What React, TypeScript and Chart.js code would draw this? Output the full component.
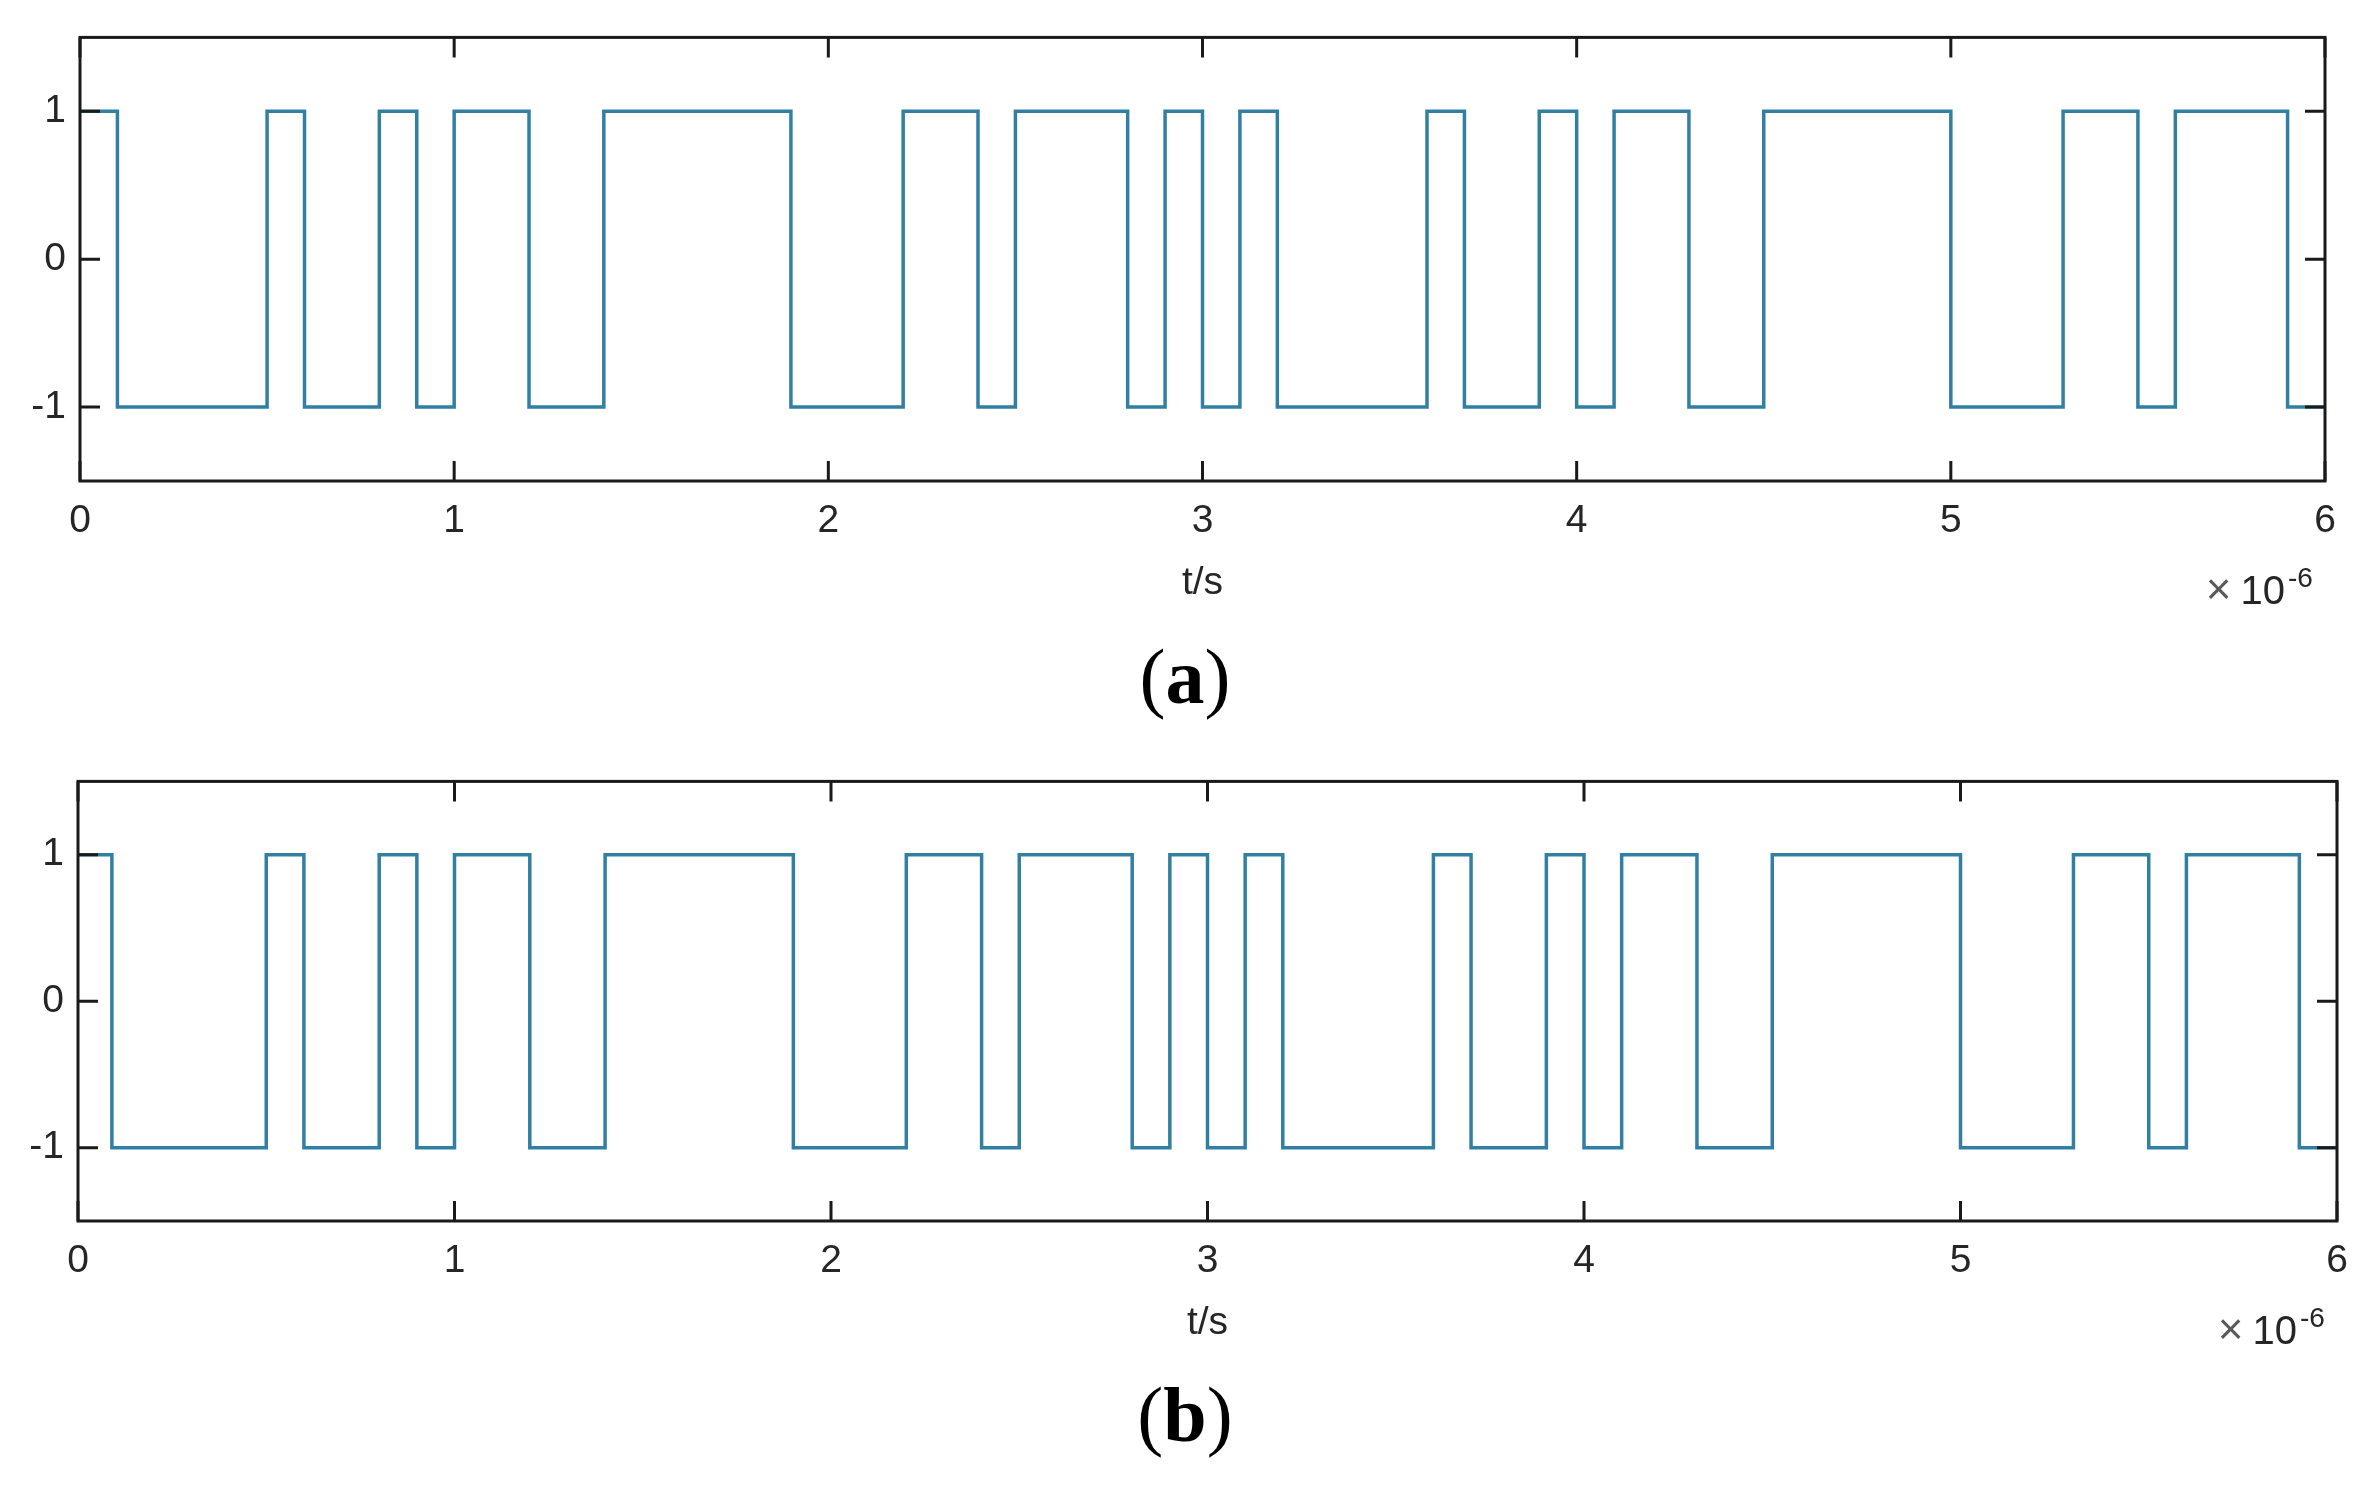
import React, { useEffect, useRef } from "react";
import { Chart, registerables } from "chart.js";

Chart.register(...registerables);

// Bit edges (in units of 1e-6 s) and the level held from each edge to the next
const edgesA = [0, 0.1, 0.5, 0.6, 0.8, 0.9, 1.0, 1.2, 1.4, 1.9, 2.2, 2.4, 2.5, 2.8, 2.9, 3.0, 3.1, 3.2, 3.6, 3.7, 3.9, 4.0, 4.1, 4.3, 4.5, 5.0, 5.3, 5.5, 5.6, 5.9, 6.0];
const levelsA = [1, -1, 1, -1, 1, -1, 1, -1, 1, -1, 1, -1, 1, -1, 1, -1, 1, -1, 1, -1, 1, -1, 1, -1, 1, -1, 1, -1, 1, -1];
const edgesB = [0, 0.09, 0.5, 0.6, 0.8, 0.9, 1.0, 1.2, 1.4, 1.9, 2.2, 2.4, 2.5, 2.8, 2.9, 3.0, 3.1, 3.2, 3.6, 3.7, 3.9, 4.0, 4.1, 4.3, 4.5, 5.0, 5.3, 5.5, 5.6, 5.9, 6.0];
const levelsB = [1, -1, 1, -1, 1, -1, 1, -1, 1, -1, 1, -1, 1, -1, 1, -1, 1, -1, 1, -1, 1, -1, 1, -1, 1, -1, 1, -1, 1, -1];

const xTicks = [0, 1, 2, 3, 4, 5, 6];
const yTicks = [-1, 0, 1];
const xAxisTitle = "t/s";
const exponentPower = "-6";

const LINE_COLOR = "#3180a3";
const TEXT_COLOR = "#262626";
const FONT = "'Liberation Sans', Arial, sans-serif";

type PanelCfg = {
  edges: number[];
  levels: number[];
  letter: string;
  top: number;
  padTop: number;
  padRight: number;
  yAxisWidth: number;
  canvasH: number;
  chartH: number;
  letterBaseline: number;
};

function makeBoxPlugin(cfg: PanelCfg) {
  return {
    id: "matlabBox" + cfg.letter,
    afterDraw(chart: any) {
      const ctx = chart.ctx as CanvasRenderingContext2D;
      const { left, right, top, bottom } = chart.chartArea;
      const xs = chart.scales.x;
      const ys = chart.scales.y;
      ctx.save();
      ctx.strokeStyle = "#1a1a1a";
      ctx.lineWidth = 3;
      ctx.strokeRect(left, top, right - left, bottom - top);
      const tl = 20;
      ctx.beginPath();
      xTicks.forEach((v) => {
        const px = xs.getPixelForValue(v);
        ctx.moveTo(px, bottom);
        ctx.lineTo(px, bottom - tl);
        ctx.moveTo(px, top);
        ctx.lineTo(px, top + tl);
      });
      yTicks.forEach((v) => {
        const py = ys.getPixelForValue(v);
        ctx.moveTo(left, py);
        ctx.lineTo(left + tl, py);
        ctx.moveTo(right, py);
        ctx.lineTo(right - tl, py);
      });
      ctx.stroke();

      // axis title
      ctx.fillStyle = TEXT_COLOR;
      ctx.font = `39px ${FONT}`;
      ctx.textAlign = "center";
      ctx.textBaseline = "middle";
      ctx.fillText(xAxisTitle, (left + right) / 2, bottom + 102);

      // exponent
      ctx.textBaseline = "alphabetic";
      ctx.textAlign = "right";
      ctx.font = `40px ${FONT}`;
      const baseRight = right - 40;
      const w10 = ctx.measureText("10").width;
      ctx.fillStyle = TEXT_COLOR;
      ctx.fillText("10", baseRight, bottom + 123);
      ctx.fillStyle = "#5a5a5a";
      ctx.font = `44px ${FONT}`;
      ctx.fillText("\u00d7", baseRight - w10 - 9, bottom + 123);
      ctx.fillStyle = TEXT_COLOR;
      ctx.textAlign = "left";
      ctx.font = `28px ${FONT}`;
      ctx.fillText(exponentPower, baseRight + 3, bottom + 106);

      // panel letter (a)/(b)
      const serif = "'Liberation Serif', 'Times New Roman', serif";
      ctx.fillStyle = "#000000";
      ctx.textAlign = "left";
      ctx.font = `78px ${serif}`;
      const wp = ctx.measureText("(").width;
      const wq = ctx.measureText(")").width;
      ctx.font = `bold 78px ${serif}`;
      const wl = ctx.measureText(cfg.letter).width;
      const total = wp + wl + wq;
      const cx = 1185;
      const x0 = cx - total / 2;
      ctx.font = `78px ${serif}`;
      ctx.fillText("(", x0, cfg.letterBaseline);
      ctx.font = `bold 78px ${serif}`;
      ctx.fillText(cfg.letter, x0 + wp, cfg.letterBaseline);
      ctx.font = `78px ${serif}`;
      ctx.fillText(")", x0 + wp + wl, cfg.letterBaseline);
      ctx.restore();
    },
  };
}

function Panel({ cfg }: { cfg: PanelCfg }) {
  const ref = useRef<HTMLCanvasElement | null>(null);
  useEffect(() => {
    if (!ref.current) return;
    const pts = cfg.levels.map((lv, i) => ({ x: cfg.edges[i], y: lv }));
    pts.push({ x: cfg.edges[cfg.edges.length - 1], y: cfg.levels[cfg.levels.length - 1] });
    const xAxisH = 130;
    const chart = new Chart(ref.current, {
      type: "line",
      data: {
        datasets: [
          {
            data: pts,
            stepped: "before",
            borderColor: LINE_COLOR,
            borderWidth: 3.5,
            pointRadius: 0,
            fill: false,
          } as any,
        ],
      },
      options: {
        animation: false,
        responsive: false,
        devicePixelRatio: 1,
        events: [],
        plugins: { legend: { display: false }, tooltip: { enabled: false } },
        layout: {
          padding: {
            left: 0,
            top: cfg.padTop,
            right: cfg.padRight,
            bottom: cfg.canvasH - cfg.padTop - cfg.chartH - xAxisH,
          },
        },
        scales: {
          x: {
            type: "linear",
            min: 0,
            max: 6,
            afterBuildTicks: (s: any) => {
              s.ticks = xTicks.map((v) => ({ value: v }));
            },
            ticks: {
              font: { family: FONT, size: 39 },
              color: TEXT_COLOR,
              padding: 17,
              maxRotation: 0,
            },
            grid: { display: false, drawTicks: false },
            border: { display: false },
            afterFit: (s: any) => {
              s.height = xAxisH;
            },
          },
          y: {
            type: "linear",
            min: -1.5,
            max: 1.5,
            afterBuildTicks: (s: any) => {
              s.ticks = yTicks.map((v) => ({ value: v }));
            },
            ticks: {
              font: { family: FONT, size: 39 },
              color: TEXT_COLOR,
              padding: 14,
            },
            grid: { display: false, drawTicks: false },
            border: { display: false },
            afterFit: (s: any) => {
              s.width = cfg.yAxisWidth;
            },
          },
        },
      } as any,
      plugins: [makeBoxPlugin(cfg)],
    });
    return () => chart.destroy();
  }, [cfg]);
  return (
    <canvas
      ref={ref}
      width={2372}
      height={cfg.canvasH}
      style={{ position: "absolute", left: 0, top: cfg.top, width: 2372, height: cfg.canvasH, display: "block" }}
    />
  );
}

const panelA: PanelCfg = {
  edges: edgesA,
  levels: levelsA,
  letter: "a",
  top: 0,
  padTop: 32,
  padRight: 47,
  yAxisWidth: 80,
  canvasH: 744,
  chartH: 449,
  letterBaseline: 703,
};
const panelB: PanelCfg = {
  edges: edgesB,
  levels: levelsB,
  letter: "b",
  top: 744,
  padTop: 23,
  padRight: 35,
  yAxisWidth: 78,
  canvasH: 744,
  chartH: 454,
  letterBaseline: 697,
};

export default function App() {
  return (
    <div style={{ position: "absolute", left: 0, top: 0, width: 2372, height: 1488, background: "#ffffff" }}>
      <Panel cfg={panelA} />
      <Panel cfg={panelB} />
    </div>
  );
}
